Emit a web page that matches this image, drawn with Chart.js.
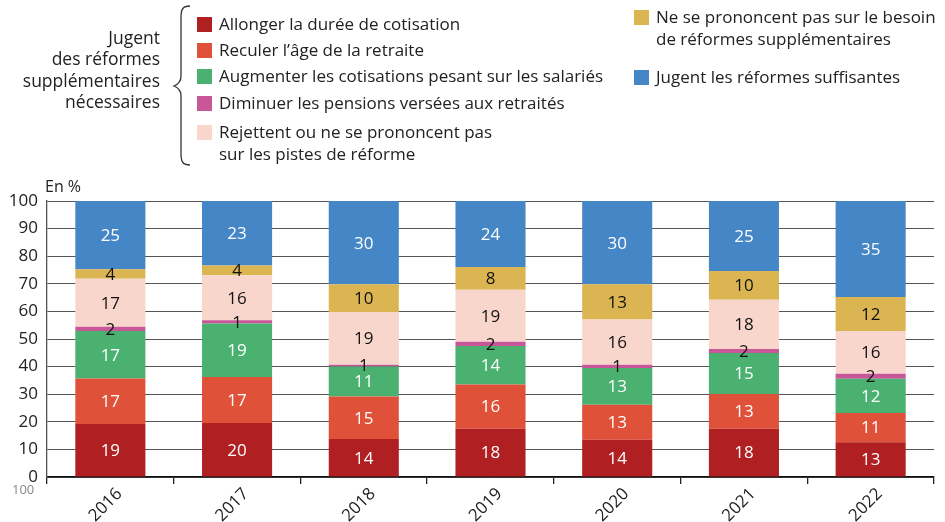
<!DOCTYPE html>
<html><head><meta charset="utf-8">
<script src="https://cdn.jsdelivr.net/npm/chart.js@4"></script>
<style>
body{margin:0;background:#fff;}
#wrap{position:relative;width:945px;height:522px;font-family:"Open Sans",sans-serif;color:#222;overflow:hidden;}
canvas{position:absolute;left:0;top:0;}
.t{position:absolute;font-size:17px;line-height:22px;white-space:nowrap;color:#222;}
.sq{position:absolute;width:15px;height:15px;}
</style></head><body>
<div id="wrap">
<canvas id="c" width="945" height="522"></canvas>
<svg style="position:absolute;left:0;top:0" width="945" height="180">
<path d="M190,6 C183,6 181,9 181,17 L181,76 C181,81 179,84 174,86 C179,88 181,91 181,96 L181,154 C181,162 183,165 190,165" stroke="#333" stroke-width="1.3" fill="none"/>
</svg>
<div class="t" style="right:785px;top:27px;text-align:right;line-height:21.3px;font-size:17.5px">Jugent<br>des réformes<br>supplémentaires<br>nécessaires</div>
<div id="legend"></div>
<div class="t" style="left:45px;top:175px;font-size:16px">En %</div>
<div class="t" style="left:12px;top:481px;font-size:13px;line-height:16px;color:#888;">100</div>
</div>
<script>
const categories = ['2016','2017','2018','2019','2020','2021','2022'];
const seriesNames = [
  'Allonger la durée de cotisation',
  'Reculer l\u2019âge de la retraite',
  'Augmenter les cotisations pesant sur les salariés',
  'Diminuer les pensions versées aux retraités',
  'Rejettent ou ne se prononcent pas<br>sur les pistes de réforme',
  'Ne se prononcent pas sur le besoin<br>de réformes supplémentaires',
  'Jugent les réformes suffisantes'
];
const allonger     = [19.2, 19.6, 13.8, 17.5, 13.5, 17.5, 12.6];
const reculer      = [16.5, 16.6, 15.4, 16.0, 12.7, 12.6, 10.6];
const augmenter    = [17.2, 19.4, 10.8, 14.0, 13.3, 14.8, 12.4];
const diminuer     = [1.5, 1.2, 0.7, 1.5, 1.2, 1.5, 1.8];
const rejettent    = [17.4, 16.3, 19.1, 18.8, 16.4, 17.8, 15.5];
const nePrononcent = [3.5, 3.5, 10.0, 8.3, 12.7, 10.4, 12.3];
const suffisantes  = [24.7, 23.4, 30.2, 23.9, 30.2, 25.4, 34.8];
const yTicks = [0,10,20,30,40,50,60,70,80,90,100];

const colors = ['#B01F22','#E0513A','#4AB171','#C8579A','#F8D6CB','#DBB552','#4586C6'];
const labelColors = ['#fff','#fff','#fff','#111','#111','#111','#fff'];
const seriesData = [allonger, reculer, augmenter, diminuer, rejettent, nePrononcent, suffisantes];

// legend (positions)
const legPos = [[197,13],[197,39],[197,65],[197,92],[197,121],[634,6],[634,66]];
const leg = document.getElementById('legend');
seriesNames.forEach((n,i)=>{
  const [x,y] = legPos[i];
  const sq = document.createElement('div');
  sq.className='sq'; sq.style.left=x+'px'; sq.style.top=(y+4)+'px'; sq.style.background=colors[i];
  leg.appendChild(sq);
  const t = document.createElement('div');
  t.className='t'; t.style.left=(x+22)+'px'; t.style.top=y+'px'; t.innerHTML=n;
  leg.appendChild(t);
});

const labelPlugin = {
  id:'segLabels',
  afterDatasetsDraw(chart){
    const ctx = chart.ctx;
    ctx.save();
    ctx.font = '17px "Open Sans", sans-serif';
    ctx.textAlign='center'; ctx.textBaseline='middle';
    chart.data.datasets.forEach((ds,di)=>{
      const meta = chart.getDatasetMeta(di);
      meta.data.forEach((el,i)=>{
        const p = el.getCenterPoint();
        ctx.fillStyle = labelColors[di];
        ctx.fillText(String(Math.round(ds.data[i])), p.x, p.y+1);
      });
    });
    ctx.restore();
  }
};

new Chart(document.getElementById('c'), {
  type:'bar',
  data:{
    labels: categories,
    datasets: seriesData.map((d,i)=>({
      label: seriesNames[i].replace('<br>',' '),
      data: d,
      backgroundColor: colors[i],
      borderWidth: 0,
      barPercentage: 0.553,
      categoryPercentage: 1
    }))
  },
  options:{
    responsive:false,
    animation:false,
    layout:{padding:{top:201,right:11,left:0,bottom:0}},
    plugins:{legend:{display:false},tooltip:{enabled:false}},
    scales:{
      x:{
        stacked:true,
        afterFit(s){ s.height = 45; },
        grid:{offset:true,drawOnChartArea:false,drawTicks:true,tickLength:7,color:'#222',lineWidth:1.3},
        border:{color:'#111',width:1.5},
        ticks:{maxRotation:45,minRotation:45,color:'#222',font:{family:'"Open Sans", sans-serif',size:17},padding:0,labelOffset:9}
      },
      y:{
        stacked:true,min:0,max:100,
        afterFit(s){ s.width = 47; },
        afterBuildTicks(s){ s.ticks = yTicks.map(v=>({value:v})); },
        grid:{color:'#555',lineWidth:1,drawTicks:false},
        border:{color:'#555',width:1.3},
        ticks:{color:'#222',font:{family:'"Open Sans", sans-serif',size:17},padding:9}
      }
    }
  },
  plugins:[labelPlugin]
});
</script>
</body></html>
